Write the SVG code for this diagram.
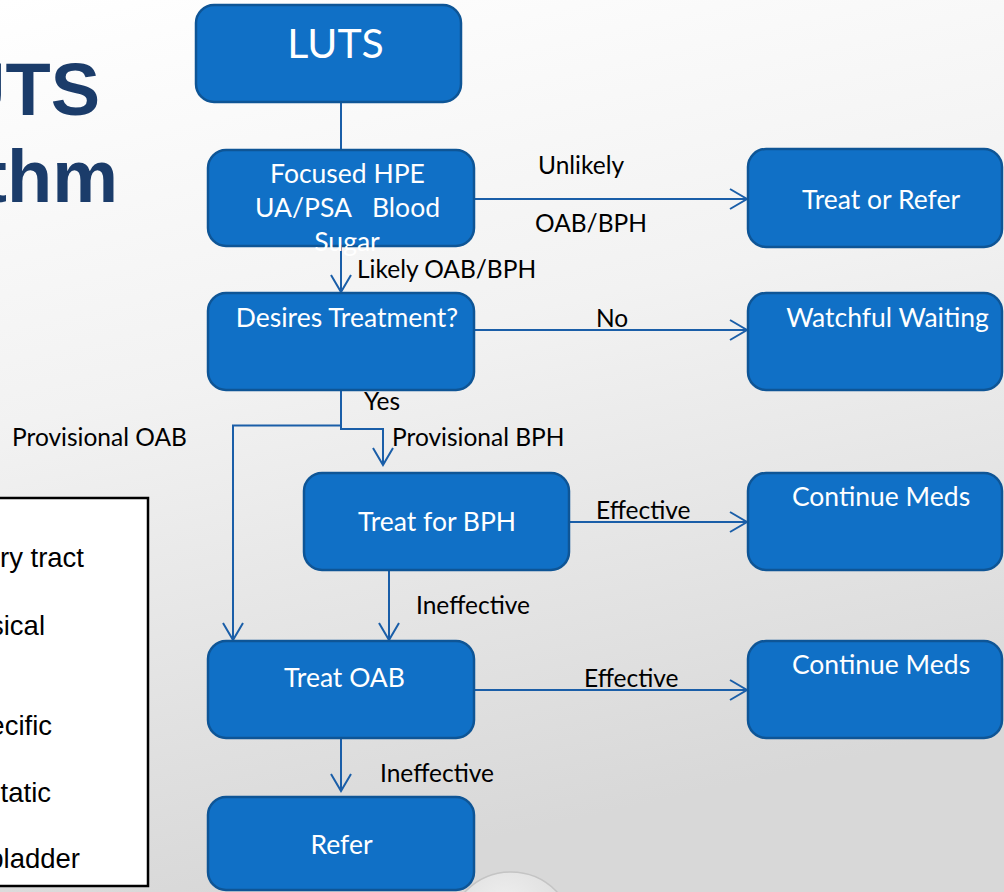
<svg xmlns="http://www.w3.org/2000/svg" width="1004" height="892" viewBox="0 0 1004 892">
  <defs>
    <linearGradient id="bg" x1="0" y1="0" x2="0.25" y2="1">
      <stop offset="0" stop-color="#ffffff"/>
      <stop offset="0.45" stop-color="#f2f2f2"/>
      <stop offset="1" stop-color="#d8d8d8"/>
    </linearGradient>
    <radialGradient id="bubble" cx="0.45" cy="0.3" r="0.7">
      <stop offset="0" stop-color="#f4f4f4" stop-opacity="0.9"/>
      <stop offset="0.7" stop-color="#e2e2e2" stop-opacity="0.7"/>
      <stop offset="1" stop-color="#bdbdbd" stop-opacity="0.8"/>
    </radialGradient>
    <marker id="arr" viewBox="-20 -12 22 24" refX="0" refY="0" markerWidth="22" markerHeight="24" markerUnits="userSpaceOnUse" orient="auto">
      <path d="M-17,-10 L0,0 L-17,10" fill="none" stroke="#1A5EA8" stroke-width="2"/>
    </marker>
    <style>
      .box { fill: #1070C6; stroke: #0E5596; stroke-width: 2.5; }
      .bt { font-family: Lato, "Open Sans", sans-serif; font-size: 26.5px; fill: #ffffff; text-anchor: middle; }
      .lbl { font-family: Lato, "Open Sans", sans-serif; font-size: 24.5px; fill: #000000; }
      .leg { font-family: "Liberation Sans", Arial, sans-serif; font-size: 27.5px; fill: #000000; text-anchor: end; }
      .title { font-family: "Liberation Sans", Arial, sans-serif; font-weight: bold; font-size: 74px; fill: #1B3C6A; text-anchor: end; }
      .con { fill: none; stroke: #1A5EA8; stroke-width: 2; }
    </style>
  </defs>

  <!-- slide background -->
  <rect x="0" y="0" width="1004" height="892" fill="url(#bg)"/>

  <!-- title fragment -->
  <text class="title" x="100" y="115">UTS</text>
  <text class="title" x="118" y="202">thm</text>

  <!-- abbreviation legend -->
  <g id="legend">
    <rect x="-5" y="498" width="153" height="388" fill="#ffffff" stroke="#000000" stroke-width="2.5"/>
    <text class="leg" x="84" y="567">ry tract</text>
    <text class="leg" x="45" y="635">sical</text>
    <text class="leg" x="52" y="735">ecific</text>
    <text class="leg" x="51" y="802">tatic</text>
    <text class="leg" x="80" y="868">bladder</text>
  </g>

  <!-- decorative bubble -->
  <circle cx="511" cy="935" r="63" fill="url(#bubble)" stroke="#c4c4c4" stroke-width="1.5"/>

  <!-- connectors -->
  <g id="connectors">
    <path class="con" d="M341 102 V150"/>
    <path class="con" d="M474 199 H747" marker-end="url(#arr)"/>
    <path class="con" d="M341 246 V292" marker-end="url(#arr)"/>
    <path class="con" d="M474 330 H747" marker-end="url(#arr)"/>
    <path class="con" d="M341 390 V429 H383 V465" marker-end="url(#arr)"/>
    <path class="con" d="M341 425.5 H233 V640" marker-end="url(#arr)"/>
    <path class="con" d="M569 522 H747" marker-end="url(#arr)"/>
    <path class="con" d="M389 570 V640" marker-end="url(#arr)"/>
    <path class="con" d="M474 690 H747" marker-end="url(#arr)"/>
    <path class="con" d="M341 738 V791" marker-end="url(#arr)"/>
  </g>

  <!-- connector labels -->
  <g id="labels">
    <text class="lbl" x="538" y="174">Unlikely</text>
    <text class="lbl" x="535" y="232">OAB/BPH</text>
    <text class="lbl" x="357" y="278">Likely OAB/BPH</text>
    <text class="lbl" x="596" y="327">No</text>
    <text class="lbl" x="364" y="410">Yes</text>
    <text class="lbl" x="392" y="446">Provisional BPH</text>
    <text class="lbl" x="12" y="446">Provisional OAB</text>
    <text class="lbl" x="596" y="519">Effective</text>
    <text class="lbl" x="416" y="614">Ineffective</text>
    <text class="lbl" x="584" y="687">Effective</text>
    <text class="lbl" x="380" y="782">Ineffective</text>
  </g>

  <!-- nodes -->
  <g id="luts">
    <rect class="box" x="196" y="5" width="265" height="97" rx="18"/>
    <text class="bt" x="335.5" y="58" style="font-size:41px">LUTS</text>
  </g>
  <g id="focused-hpe">
    <rect class="box" x="208" y="150" width="266" height="96" rx="18"/>
    <text class="bt" x="347.5" y="183">Focused HPE</text>
    <text class="bt" y="217" style="text-anchor:start"><tspan x="255">UA/PSA</tspan><tspan x="372">Blood</tspan></text>
    <text class="bt" x="347" y="251">Sugar</text>
  </g>
  <g id="treat-or-refer">
    <rect class="box" x="748" y="149" width="254" height="98" rx="18"/>
    <text class="bt" x="881" y="209">Treat or Refer</text>
  </g>
  <g id="desires-treatment">
    <rect class="box" x="208" y="293" width="266" height="97" rx="18"/>
    <text class="bt" x="347" y="327">Desires Treatment?</text>
  </g>
  <g id="watchful-waiting">
    <rect class="box" x="748" y="293" width="254" height="97" rx="18"/>
    <text class="bt" x="887.5" y="327">Watchful Waiting</text>
  </g>
  <g id="treat-bph">
    <rect class="box" x="304" y="473" width="265" height="97" rx="18"/>
    <text class="bt" x="437" y="531">Treat for BPH</text>
  </g>
  <g id="continue-meds-1">
    <rect class="box" x="748" y="473" width="254" height="97" rx="18"/>
    <text class="bt" x="881" y="506">Continue Meds</text>
  </g>
  <g id="treat-oab">
    <rect class="box" x="208" y="641" width="266" height="97" rx="18"/>
    <text class="bt" x="344.5" y="687">Treat OAB</text>
  </g>
  <g id="continue-meds-2">
    <rect class="box" x="748" y="641" width="254" height="97" rx="18"/>
    <text class="bt" x="881" y="674">Continue Meds</text>
  </g>
  <g id="refer">
    <rect class="box" x="208" y="797" width="266" height="93" rx="18"/>
    <text class="bt" x="341.5" y="854">Refer</text>
  </g>
</svg>
